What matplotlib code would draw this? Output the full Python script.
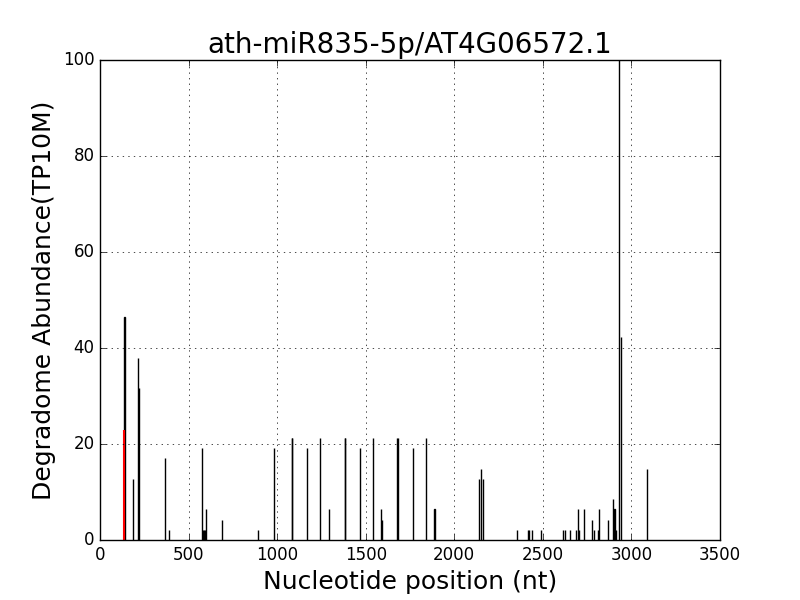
import matplotlib
matplotlib.use("Agg")
import matplotlib.pyplot as plt

title = "ath-miR835-5p/AT4G06572.1"

# cleavage positions (nt) and abundances (TP10M)
positions = [138, 186, 215, 220, 367, 391, 577, 582, 588, 594, 600, 690, 894,
             983, 1082, 1086, 1170, 1242, 1293, 1381, 1385, 1468, 1543, 1586,
             1594, 1678, 1682, 1769, 1840, 1888, 2141, 2153, 2160, 2356, 2418,
             2423, 2440, 2491, 2616, 2625, 2655, 2687, 2698, 2706, 2734, 2778,
             2790, 2810, 2819, 2870, 2898, 2904, 2911, 2930, 2940, 3086]
abundance = [46.5, 12.7, 38.0, 31.7, 17.0, 2.1, 19.1, 2.1, 2.1, 2.1, 6.4, 4.2, 2.1,
             19.1, 21.2, 21.2, 19.1, 21.2, 6.4, 21.2, 21.2, 19.1, 21.2, 6.4,
             4.2, 21.2, 21.2, 19.1, 21.2, 6.4, 12.7, 14.8, 12.7, 2.1, 2.1,
             2.1, 2.1, 2.1, 2.1, 2.1, 2.1, 2.1, 6.4, 2.1, 6.4, 4.2,
             2.1, 2.1, 6.4, 4.2, 8.5, 6.4, 2.1, 100.0, 42.3, 14.8]

# predicted target site
site_pos = [136]
site_abund = [23.0]

plt.style.use("classic")
fig = plt.figure(figsize=(8, 6), dpi=100, facecolor="white")
ax = fig.add_subplot(111)

ax.bar(positions, abundance, width=1, color="black", edgecolor="black",
       linewidth=1, align="center")
ax.bar(site_pos, site_abund, width=1, color="red", edgecolor="red",
       linewidth=1.5, align="center")

ax.set_xlim(0, 3500)
ax.set_ylim(0, 100)
ax.set_xticks(range(0, 3501, 500))
ax.set_yticks(range(0, 101, 20))
ax.grid(True)
ax.set_title(title, fontsize=20)
ax.set_xlabel("Nucleotide position (nt)", fontsize=18)
ax.set_ylabel("Degradome Abundance(TP10M)", fontsize=18)
ax.tick_params(labelsize=12)

fig.savefig("out.png", dpi=100, facecolor="white")
